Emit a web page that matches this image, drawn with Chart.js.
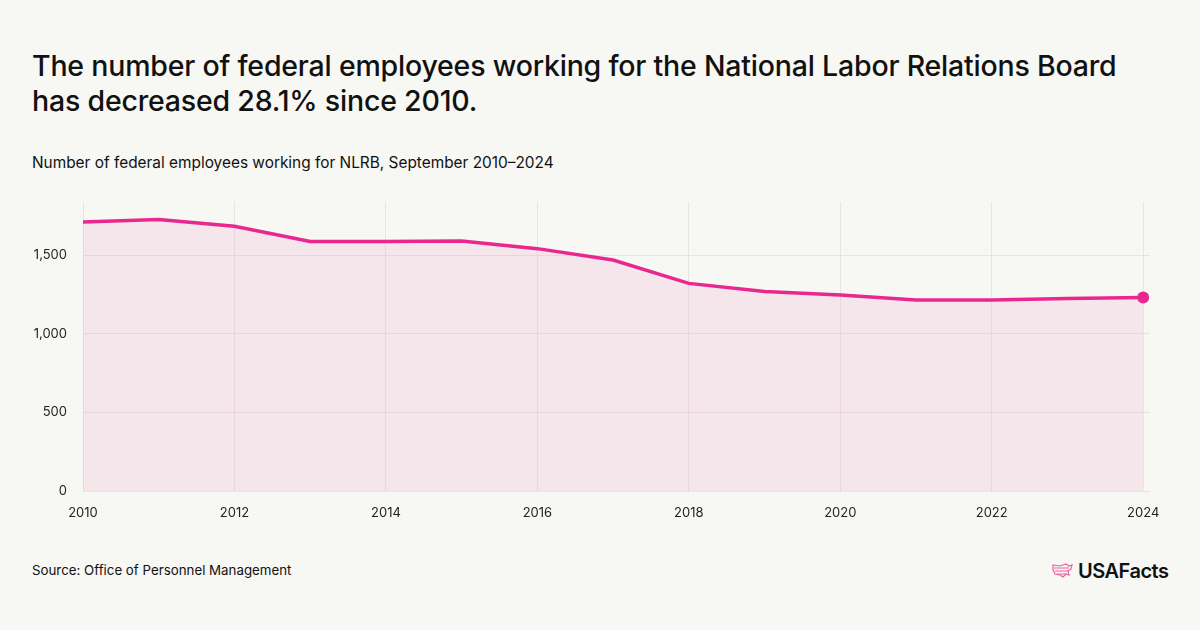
<!DOCTYPE html>
<html>
<head>
<meta charset="utf-8">
<script src="https://cdn.jsdelivr.net/npm/chart.js@4"></script>
<style>
  html, body { margin: 0; padding: 0; }
  body {
    width: 1200px; height: 630px; overflow: hidden;
    background: #f7f7f3; position: relative;
    font-family: Inter, "Noto Sans", sans-serif; color: #111;
  }
  .title {
    position: absolute; left: 32px; top: 48px; width: 1110px;
    font-size: 28.5px; font-weight: 500; line-height: 35px; letter-spacing: -0.2px;
  }
  .subtitle {
    position: absolute; left: 32px; top: 153px;
    font-size: 15.4px; font-weight: 400;
  }
  .source {
    position: absolute; left: 32px; top: 562px;
    font-size: 13.3px;
  }
  .logo {
    position: absolute; left: 1051px; top: 559px;
    display: flex; align-items: center; gap: 4px;
    font-size: 20px; font-weight: 600; letter-spacing: -0.5px;
  }
  #wrap { position: absolute; left: 0; top: 178px; width: 1200px; height: 352px; }
</style>
</head>
<body>
<div class="title">The number of federal employees working for the National Labor Relations Board has decreased 28.1% since 2010.</div>
<div class="subtitle">Number of federal employees working for NLRB, September 2010–2024</div>
<div id="wrap"><canvas id="chart"></canvas></div>
<div class="source">Source: Office of Personnel Management</div>
<div class="logo">
  <svg width="23" height="18" viewBox="0 0 23 18">
    <path d="M2 3 L9 4 L15 2 L18 4 L21 3 L20 7 L17 9 L18 13 L15 12 L12 15 L9 13 L4 12 L2 8 Z" fill="none" stroke="#ef5fa7" stroke-width="1.2"/>
    <path d="M3 6 L18 6 M4 9 L17 9 M6 12 L15 12" fill="none" stroke="#ef5fa7" stroke-width="1"/>
  </svg>
  <span>USAFacts</span>
</div>
<script>
const years = [2010, 2011, 2012, 2013, 2014, 2015, 2016, 2017, 2018, 2019, 2020, 2021, 2022, 2023, 2024];
const employees = [1712, 1728, 1684, 1588, 1588, 1590, 1542, 1470, 1321, 1269, 1247, 1215, 1215, 1224, 1231];
const xTickLabels = [2010, 2012, 2014, 2016, 2018, 2020, 2022, 2024];
const yTickLabels = [0, 500, 1000, 1500];

const pink = '#e8288f';
const gridColor = '#e9e4e4';

new Chart(document.getElementById('chart'), {
  type: 'line',
  data: {
    datasets: [{
      data: years.map((y, i) => ({ x: y, y: employees[i] })),
      borderColor: pink,
      backgroundColor: 'rgba(232, 40, 143, 0.08)',
      borderWidth: 3.5,
      tension: 0,
      fill: 'origin',
      pointRadius: ctx => ctx.dataIndex === years.length - 1 ? 6 : 0,
      pointBackgroundColor: pink,
      pointBorderWidth: 0,
      pointHoverRadius: 0
    }]
  },
  options: {
    responsive: true,
    maintainAspectRatio: false,
    animation: false,
    layout: { padding: { top: 0, right: 50, left: 0, bottom: 0 } },
    plugins: {
      legend: { display: false },
      tooltip: { enabled: false }
    },
    scales: {
      x: {
        type: 'linear',
        min: 2010,
        max: 2024.09,
        afterBuildTicks: scale => { scale.ticks = xTickLabels.map(v => ({ value: v })); },
        afterFit: scale => { scale.height = 39; },
        border: { display: false },
        grid: { color: gridColor, drawTicks: false, lineWidth: 1 },
        ticks: {
          padding: 14,
          color: '#222',
          font: { family: 'Inter', size: 13 },
          maxRotation: 0,
          callback: v => String(v)
        }
      },
      y: {
        min: 0,
        max: 1840,
        afterBuildTicks: scale => { scale.ticks = yTickLabels.map(v => ({ value: v })); },
        afterFit: scale => { scale.width = 83; },
        border: { display: false },
        grid: { color: gridColor, drawTicks: false, lineWidth: 1 },
        ticks: {
          padding: 16,
          color: '#222',
          font: { family: 'Inter', size: 13 },
          callback: v => v.toLocaleString('en-US')
        }
      }
    }
  }
});
</script>
</body>
</html>
